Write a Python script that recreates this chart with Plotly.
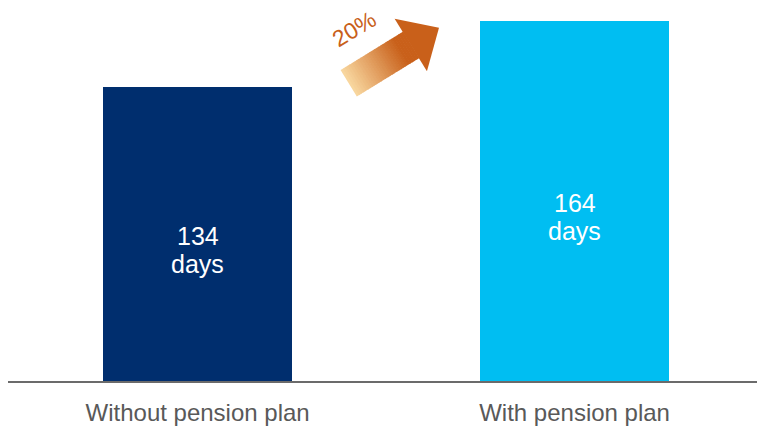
import plotly.graph_objects as go
import numpy as np

categories = ["Without pension plan", "With pension plan"]
days = [134, 164]
bar_colors = ["#002E6E", "#00BEF2"]
unit_label = "days"
growth_label = "20%"

W, H = 757, 427
ML, MR, MT, MB = 8, 0, 0, 46
PW, PH = W - ML - MR, H - MT - MB
FONT = "Liberation Sans, Arial, sans-serif"

fig = go.Figure()
fig.add_trace(go.Bar(
    x=categories, y=days, marker=dict(color=bar_colors, line=dict(width=0)),
    width=0.5, hoverinfo="skip",
))

# value labels inside the bars (number line and unit line)
for c, v in zip(categories, days):
    fig.add_annotation(x=c, y=v / 2, yshift=-2, text=str(v), showarrow=False,
                       font=dict(family=FONT, size=25, color="white"))
    fig.add_annotation(x=c, y=v / 2, yshift=-30, text=unit_label, showarrow=False,
                       font=dict(family=FONT, size=25, color="white"))

# pixel -> paper helpers for the decorative arrow
def px(x):
    return (x - ML) / PW

def py(y):
    return (H - MB - y) / PH

base = np.array([348.7, 83.3])
tip = np.array([439.0, 27.7])
d = tip - base
L = np.linalg.norm(d)
u_hat = d / L
v_hat = np.array([0.525, 0.852])
shaft_hw, head_hw, head_start = 15.5, 30.8, 72.9

def pt(u, v):
    p = base + u_hat * u + v_hat * v
    return px(p[0]), py(p[1])

def path(points):
    return "M " + " L ".join(f"{x:.5f},{y:.5f}" for x, y in points) + " Z"

light = np.array([250, 218, 162])
dark = np.array([201, 96, 26])
n = 28
edges = np.linspace(0, head_start, n + 1)
for i in range(n):
    u0, u1 = edges[i], min(edges[i + 1] + 0.6, head_start + 0.6)
    t = min(1.0, ((u0 + u1) / 2) / 62.0)
    col = light + (dark - light) * t
    color = f"rgb({int(col[0])},{int(col[1])},{int(col[2])})"
    pts = [pt(u0, -shaft_hw), pt(u1, -shaft_hw), pt(u1, shaft_hw), pt(u0, shaft_hw)]
    fig.add_shape(type="path", xref="paper", yref="paper", path=path(pts),
                  fillcolor=color, line=dict(width=0), layer="above")
head = [pt(head_start, -head_hw), pt(L, 0), pt(head_start, head_hw)]
fig.add_shape(type="path", xref="paper", yref="paper", path=path(head),
              fillcolor="rgb(201,96,26)", line=dict(width=0), layer="above")

fig.add_annotation(xref="paper", yref="paper", x=px(354), y=py(3), text=growth_label,
                   textangle=-31, showarrow=False,
                   font=dict(family=FONT, size=23, color="#C8601A"))

fig.update_layout(
    width=W, height=H, margin=dict(l=ML, r=MR, t=MT, b=MB),
    plot_bgcolor="white", paper_bgcolor="white", showlegend=False, bargap=0,
    font=dict(family=FONT, size=24, color="#595959"),
)
fig.update_xaxes(range=[-0.503, 1.484], showline=True, linecolor="#6B6B6B", linewidth=2,
                 ticks="", showgrid=False, automargin=False, ticklabelstandoff=9,
                 tickfont=dict(family=FONT, size=24, color="#595959"))
fig.update_yaxes(range=[0, 173.6], visible=False, showgrid=False)

fig.write_html("out.html")
